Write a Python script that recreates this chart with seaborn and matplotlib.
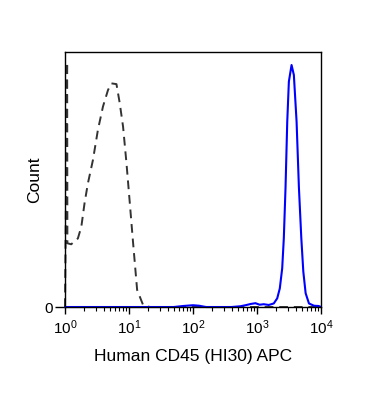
import matplotlib
matplotlib.use('Agg')
import matplotlib.pyplot as plt
import matplotlib.ticker as mticker
import seaborn as sns
import pandas as pd

# Isotype control (dashed) - intensity vs. % of max count
iso_x = [1.0, 1.08, 1.09, 1.25, 1.59, 1.80, 2.02, 2.28, 2.73, 3.27, 3.92, 4.70,
         5.31, 6.37, 7.17, 8.08, 9.14, 10.3, 11.6, 13.4, 16.6, 21.2, 100,
         1000, 10000]
iso_y = [0, 96, 25, 24.6, 26.9, 31.5, 40.7, 48.5, 57.6, 69.5, 78.6, 85.1,
         87.7, 87.4, 79.9, 70.7, 56.3, 40.7, 25.0, 6.7, 0.8, 0, 0,
         0, 0]

# CD45 stained (blue)
cd45_x = [1.0, 50, 70, 100, 125, 160, 400, 550, 660, 800, 945, 1100, 1274,
          1527, 1829, 2070, 2272, 2477, 2625, 2792, 2970, 3148, 3468, 3767,
          4155, 4518, 4925, 5293, 5756, 6486, 7766, 9206, 10000]
cd45_y = [0, 0, 0.4, 0.7, 0.5, 0, 0, 0.3, 0.7, 1.2, 1.5, 0.9, 1.1,
          0.8, 1.4, 3.4, 7.3, 15.2, 27.0, 46.9, 72.7, 88.4, 94.9, 91.0,
          72.7, 46.9, 27.0, 13.9, 5.4, 1.4, 0.5, 0.4, 0]

xticks = [1, 10, 100, 1000, 10000]

iso = pd.DataFrame({"x": iso_x, "y": iso_y})
cd45 = pd.DataFrame({"x": cd45_x, "y": cd45_y})

sns.set_style("ticks")
plt.rcParams['font.family'] = ['Liberation Sans', 'DejaVu Sans']
plt.rcParams['mathtext.fontset'] = 'custom'
plt.rcParams['mathtext.rm'] = 'Liberation Sans'
plt.rcParams['mathtext.it'] = 'Liberation Sans'
plt.rcParams['text.color'] = 'black'
plt.rcParams['axes.labelcolor'] = 'black'
plt.rcParams['xtick.color'] = 'black'
plt.rcParams['ytick.color'] = 'black'

fig = plt.figure(figsize=(3.81, 3.96), dpi=100)
ax = fig.add_axes([0.1706, 0.2247, 0.6719, 0.6440])

sns.lineplot(data=iso, x="x", y="y", ax=ax, color="#333333", linewidth=1.4,
             linestyle=(0, (4.5, 3)), estimator=None, sort=False, clip_on=False)
sns.lineplot(data=cd45, x="x", y="y", ax=ax, color="#0000ff", linewidth=1.5,
             estimator=None, sort=False, clip_on=False)

ax.set_xscale("log")
ax.set_xlim(1, 10000)
ax.set_ylim(0, 100)
ax.set_xticks(xticks)
ax.xaxis.set_major_formatter(mticker.LogFormatterSciNotation())
ax.xaxis.set_minor_locator(mticker.LogLocator(base=10, subs=range(2, 10)))
ax.xaxis.set_minor_formatter(mticker.NullFormatter())
ax.set_yticks([0])
ax.set_yticklabels(["0"])

ax.tick_params(axis="both", which="major", direction="out", length=5, width=1,
               labelsize=11, color="black", labelcolor="black")
ax.tick_params(axis="x", which="minor", direction="out", length=3, width=0.8)
ax.tick_params(axis="y", which="major", length=7, pad=2)

for s in ax.spines.values():
    s.set_visible(True)
    s.set_color("black")
    s.set_linewidth(1)

ax.set_xlabel("Human CD45 (HI30) APC", fontsize=12.5, labelpad=8)
ax.set_ylabel("Count", fontsize=12.5, labelpad=1)

fig.savefig("out.png", dpi=100)
plt.close(fig)
